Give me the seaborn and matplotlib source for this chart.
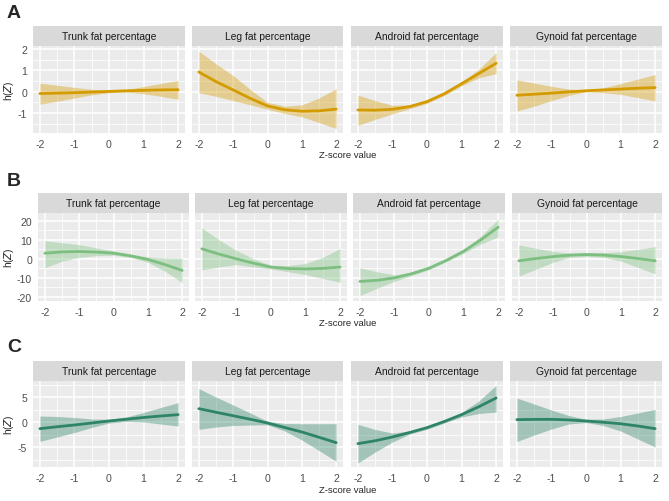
import numpy as np
import pandas as pd
import matplotlib
matplotlib.use('Agg')
import matplotlib.pyplot as plt
import seaborn as sns
from matplotlib.ticker import FixedLocator

# x grid (z-score) shared by all panels
z = [-2, -1.5, -1, -0.5, 0, 0.5, 1, 1.5, 2]
measures = ['Trunk fat percentage', 'Leg fat percentage',
            'Android fat percentage', 'Gynoid fat percentage']

# Row A
a_trunk_fit = [-0.09, -0.07, -0.05, -0.02, 0.01, 0.04, 0.06, 0.08, 0.09]
a_trunk_lo = [-0.59, -0.45, -0.30, -0.15, -0.05, -0.02, -0.10, -0.22, -0.36]
a_trunk_hi = [0.39, 0.30, 0.20, 0.11, 0.06, 0.10, 0.24, 0.38, 0.52]
a_leg_fit = [0.92, 0.47, 0.08, -0.32, -0.67, -0.85, -0.92, -0.90, -0.82]
a_leg_lo = [-0.05, -0.22, -0.42, -0.62, -0.83, -1.02, -1.18, -1.45, -1.73]
a_leg_hi = [1.90, 1.30, 0.75, 0.10, -0.50, -0.68, -0.62, -0.30, 0.14]
a_andr_fit = [-0.86, -0.87, -0.83, -0.70, -0.47, -0.10, 0.37, 0.85, 1.33]
a_andr_lo = [-1.58, -1.30, -1.04, -0.80, -0.55, -0.18, 0.27, 0.65, 0.84]
a_andr_hi = [-0.16, -0.42, -0.64, -0.62, -0.41, -0.03, 0.45, 1.05, 1.83]
a_gyn_fit = [-0.17, -0.12, -0.07, -0.01, 0.04, 0.08, 0.12, 0.16, 0.19]
a_gyn_lo = [-0.91, -0.68, -0.42, -0.18, 0.00, -0.05, -0.13, -0.28, -0.44]
a_gyn_hi = [0.55, 0.40, 0.25, 0.12, 0.08, 0.18, 0.38, 0.59, 0.80]

# Row B
b_trunk_fit = [3.0, 3.7, 3.9, 3.6, 3.0, 1.6, -0.3, -3.0, -6.1]
b_trunk_lo = [-4.7, -1.2, 0.8, 1.7, 2.0, 0.8, -1.8, -6.5, -12.5]
b_trunk_hi = [9.6, 8.5, 7.5, 5.8, 4.2, 2.5, 1.0, 0.5, 0.4]
b_leg_fit = [5.3, 2.5, 0.0, -2.3, -4.3, -5.1, -5.3, -5.0, -4.3]
b_leg_lo = [-5.8, -4.2, -3.0, -4.3, -5.3, -6.8, -8.3, -10.3, -12.4]
b_leg_hi = [16.3, 10.0, 4.4, 0.0, -3.4, -3.5, -2.4, 0.8, 5.5]
b_andr_fit = [-11.9, -11.3, -10.0, -7.8, -4.9, -0.8, 4.0, 10.0, 16.7]
b_andr_lo = [-19.3, -15.5, -11.8, -8.8, -5.7, -1.5, 2.9, 7.8, 11.5]
b_andr_hi = [-4.7, -6.8, -8.4, -7.0, -4.2, -0.2, 5.1, 12.0, 21.0]
b_gyn_fit = [-1.0, 0.2, 1.2, 2.0, 2.3, 2.0, 1.2, 0.2, -1.0]
b_gyn_lo = [-9.1, -5.5, -1.8, 0.8, 1.3, 0.8, -1.2, -4.5, -7.9]
b_gyn_hi = [7.4, 5.6, 4.0, 3.0, 3.3, 3.3, 3.8, 5.0, 6.5]

# Row C
c_trunk_fit = [-1.33, -0.95, -0.60, -0.20, 0.20, 0.55, 0.90, 1.20, 1.47]
c_trunk_lo = [-3.87, -3.0, -2.1, -1.1, -0.2, 0.1, 0.0, -0.4, -0.8]
c_trunk_hi = [1.2, 1.1, 0.9, 0.6, 0.55, 1.0, 1.9, 2.9, 3.87]
c_leg_fit = [2.67, 1.95, 1.25, 0.55, -0.2, -1.1, -2.0, -3.05, -4.13]
c_leg_lo = [-1.47, -1.0, -0.7, -0.6, -0.55, -1.8, -3.6, -5.7, -7.87]
c_leg_hi = [6.67, 5.0, 3.4, 1.8, 0.15, -0.3, -0.35, -0.35, -0.33]
c_andr_fit = [-4.33, -3.75, -3.0, -2.1, -1.13, 0.1, 1.47, 3.05, 4.8]
c_andr_lo = [-8.2, -6.0, -4.0, -2.4, -1.45, -0.2, 1.0, 1.7, 2.0]
c_andr_hi = [-0.47, -1.5, -2.2, -1.8, -0.85, 0.35, 1.9, 4.2, 7.33]
c_gyn_fit = [0.47, 0.52, 0.53, 0.42, 0.2, -0.05, -0.35, -0.8, -1.33]
c_gyn_lo = [-3.9, -2.6, -1.4, -0.4, -0.1, -0.7, -1.8, -3.4, -5.0]
c_gyn_hi = [4.8, 3.6, 2.4, 1.3, 0.55, 0.6, 1.1, 1.8, 2.53]

row_labels = ['A', 'B', 'C']
row_colors = ['#D49B00', '#7DBF80', '#2E8468']
row_yticks = [[-1, 0, 1, 2], [-20, -10, 0, 10, 20], [-5, 0, 5]]
row_yminor = [[-1.5, -0.5, 0.5, 1.5], [-15, -5, 5, 15], [-7.5, -2.5, 2.5, 7.5]]
row_ylim = [(-1.94, 2.14), (-22.2, 24.2), (-9.0, 8.2)]

rows = [
    [(a_trunk_fit, a_trunk_lo, a_trunk_hi), (a_leg_fit, a_leg_lo, a_leg_hi),
     (a_andr_fit, a_andr_lo, a_andr_hi), (a_gyn_fit, a_gyn_lo, a_gyn_hi)],
    [(b_trunk_fit, b_trunk_lo, b_trunk_hi), (b_leg_fit, b_leg_lo, b_leg_hi),
     (b_andr_fit, b_andr_lo, b_andr_hi), (b_gyn_fit, b_gyn_lo, b_gyn_hi)],
    [(c_trunk_fit, c_trunk_lo, c_trunk_hi), (c_leg_fit, c_leg_lo, c_leg_hi),
     (c_andr_fit, c_andr_lo, c_andr_hi), (c_gyn_fit, c_gyn_lo, c_gyn_hi)],
]

# build a long table
recs = []
for r, lab in enumerate(row_labels):
    for m, name in enumerate(measures):
        fit, lo, hi = rows[r][m]
        for i in range(len(z)):
            recs.append({'row': lab, 'measure': name, 'z': z[i],
                         'fit': fit[i], 'lo': lo[i], 'hi': hi[i]})
df = pd.DataFrame(recs)

sns.set_theme(style='darkgrid')
plt.rcParams['font.family'] = ['Liberation Sans', 'DejaVu Sans']

W, H = 669, 502
fig = plt.figure(figsize=(W / 100, H / 100), dpi=100)
fig.patch.set_facecolor('white')

def px_axes(x0, x1, y0, y1):
    return fig.add_axes([x0 / W, 1 - y1 / H, (x1 - x0) / W, (y1 - y0) / H])

# panel geometry in pixels
row_geom = [
    dict(strip=27, top=47, bottom=134, cols=[(33, 185), (192, 343), (351, 503), (510, 662)], lab=14, xl=156),
    dict(strip=194, top=214, bottom=302, cols=[(38, 189), (195, 347), (353, 505), (512, 662)], lab=181, xl=324),
    dict(strip=362, top=382, bottom=468, cols=[(33, 185), (192, 343), (351, 503), (510, 662)], lab=348, xl=491),
]

tick_col = '#4D4D4D'
for r, lab in enumerate(row_labels):
    g = row_geom[r]
    col = row_colors[r]
    for m, name in enumerate(measures):
        x0, x1 = g['cols'][m]
        ax = px_axes(x0, x1, g['top'], g['bottom'])
        sub = df[(df['row'] == lab) & (df['measure'] == name)]
        ax.fill_between(sub['z'], sub['lo'], sub['hi'], color=col, alpha=0.38, lw=0, zorder=2)
        sns.lineplot(data=sub, x='z', y='fit', ax=ax, color=col, lw=2, zorder=3)
        ax.set_facecolor('#EBEBEB')
        ax.set_xlim(-2.2, 2.2)
        ax.set_ylim(*row_ylim[r])
        ax.xaxis.set_major_locator(FixedLocator([-2, -1, 0, 1, 2]))
        ax.xaxis.set_minor_locator(FixedLocator([-1.5, -0.5, 0.5, 1.5]))
        ax.yaxis.set_major_locator(FixedLocator(row_yticks[r]))
        ax.yaxis.set_minor_locator(FixedLocator(row_yminor[r]))
        ax.grid(which='major', color='white', lw=1.1)
        ax.grid(which='minor', color='white', lw=0.55)
        ax.set_axisbelow(True)
        for s in ax.spines.values():
            s.set_visible(False)
        ax.set_xlabel('')
        ax.set_ylabel('')
        ax.tick_params(which='major', length=2.5, width=0.8, color='#333333',
                       labelsize=7.6, labelcolor=tick_col, pad=1.8)
        ax.tick_params(which='minor', length=0)
        ax.set_xticklabels(['-2', '-1', '0', '1', '2'])
        if m == 0:
            ax.set_yticklabels([str(t) for t in row_yticks[r]])
        else:
            ax.tick_params(axis='y', which='major', length=0, labelleft=False)
        # strip
        sax = px_axes(x0, x1, g['strip'], g['top'])
        sax.set_facecolor('#D9D9D9')
        sax.set_xticks([])
        sax.set_yticks([])
        for s in sax.spines.values():
            s.set_visible(False)
        sax.text(0.5, 0.5, name, ha='center', va='center', fontsize=7.4,
                 color='#1A1A1A', transform=sax.transAxes)
    # row label, axis titles
    fig.text(7 / W, 1 - g['lab'] / H, lab, fontsize=14, fontweight='bold', va='center', ha='left')
    fig.text(348 / W, 1 - g['xl'] / H, 'Z-score value', fontsize=6.8, ha='center', va='center')
    fig.text(9 / W, 1 - (g['top'] + g['bottom']) / 2 / H, r'h($\mathit{Z}$)', fontsize=7.2,
             rotation=90, ha='center', va='center')

fig.savefig('out.png', dpi=100)
